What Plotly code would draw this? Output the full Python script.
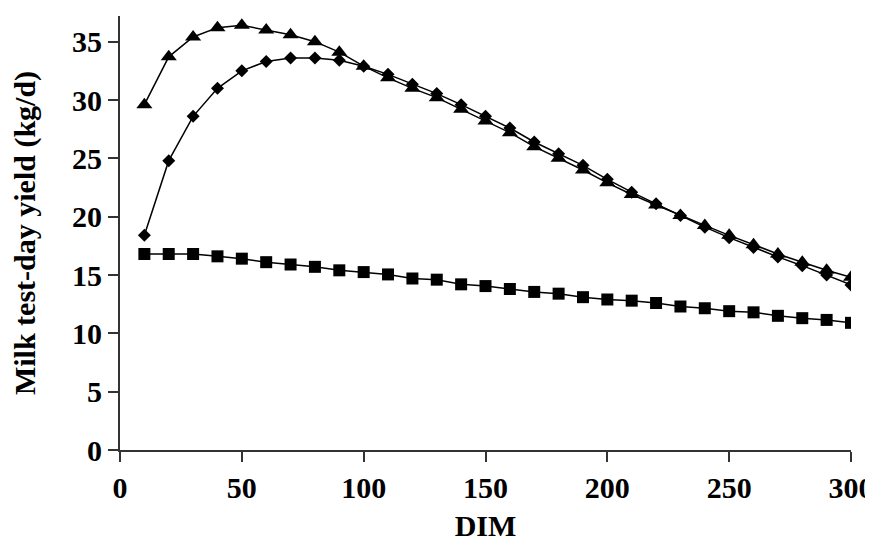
import plotly.graph_objects as go

dim = [10, 20, 30, 40, 50, 60, 70, 80, 90, 100, 110, 120, 130, 140, 150,
       160, 170, 180, 190, 200, 210, 220, 230, 240, 250, 260, 270, 280, 290, 300]

triangles = [29.6, 33.7, 35.4, 36.2, 36.4, 36.0, 35.6, 35.0, 34.1, 32.9,
             31.9, 31.0, 30.2, 29.2, 28.2, 27.2, 26.0, 25.0, 24.0, 22.9,
             21.9, 21.0, 20.1, 19.25, 18.4, 17.6, 16.8, 16.1, 15.4, 14.8]

diamonds = [18.4, 24.8, 28.6, 31.0, 32.5, 33.3, 33.6, 33.6, 33.4, 32.9,
            32.2, 31.35, 30.55, 29.6, 28.6, 27.6, 26.4, 25.4, 24.4, 23.2,
            22.1, 21.1, 20.1, 19.1, 18.2, 17.35, 16.55, 15.8, 15.0, 14.15]

squares = [16.8, 16.8, 16.8, 16.6, 16.4, 16.1, 15.9, 15.7, 15.4, 15.25,
           15.05, 14.7, 14.6, 14.2, 14.05, 13.8, 13.55, 13.4, 13.1, 12.9,
           12.8, 12.6, 12.3, 12.15, 11.9, 11.8, 11.5, 11.3, 11.15, 10.9]

x_ticks = [0, 50, 100, 150, 200, 250, 300]
y_ticks = [0, 5, 10, 15, 20, 25, 30, 35]

font_family = "Liberation Serif"

fig = go.Figure()
line_style = dict(color="black", width=1.5)
fig.add_trace(go.Scatter(x=dim, y=squares, mode="lines+markers", line=line_style,
                         marker=dict(symbol="square", size=12, color="black"),
                         showlegend=False))
fig.add_trace(go.Scatter(x=dim, y=diamonds, mode="lines+markers", line=line_style,
                         marker=dict(symbol="diamond", size=10, color="black"),
                         showlegend=False))
fig.add_trace(go.Scatter(x=dim, y=triangles, mode="lines+markers", line=line_style,
                         marker=dict(symbol="triangle-up", size=14, color="black"),
                         showlegend=False))

tickfont = dict(family=font_family, size=30, color="black", weight="bold")

fig.update_layout(
    width=873, height=541,
    margin=dict(l=112, r=30, t=8, b=99, autoexpand=False),
    plot_bgcolor="white", paper_bgcolor="white",
    xaxis=dict(range=[0, 300], tickvals=x_ticks, ticktext=[str(v) for v in x_ticks],
               showgrid=False, zeroline=False, showline=True, linecolor="#333333",
               linewidth=2, ticks="outside", ticklen=10, tickwidth=1.5,
               tickcolor="#333333", tickfont=tickfont, automargin=False,
               title=dict(text="DIM", font=dict(family=font_family, size=30,
                                                 color="black", weight="bold"),
                          standoff=12)),
    yaxis=dict(range=[0, 37.2], tickvals=y_ticks, ticktext=[str(v) for v in y_ticks],
               showgrid=False, zeroline=False, showline=True, linecolor="#333333",
               linewidth=2, ticks="outside", ticklen=10, tickwidth=1.5,
               tickcolor="#333333", tickfont=tickfont, automargin=False,
               title=dict(text="Milk test-day yield (kg/d)",
                          font=dict(family=font_family, size=30, color="black",
                                    weight="bold"),
                          standoff=28)),
)

fig.write_html("out.html")
